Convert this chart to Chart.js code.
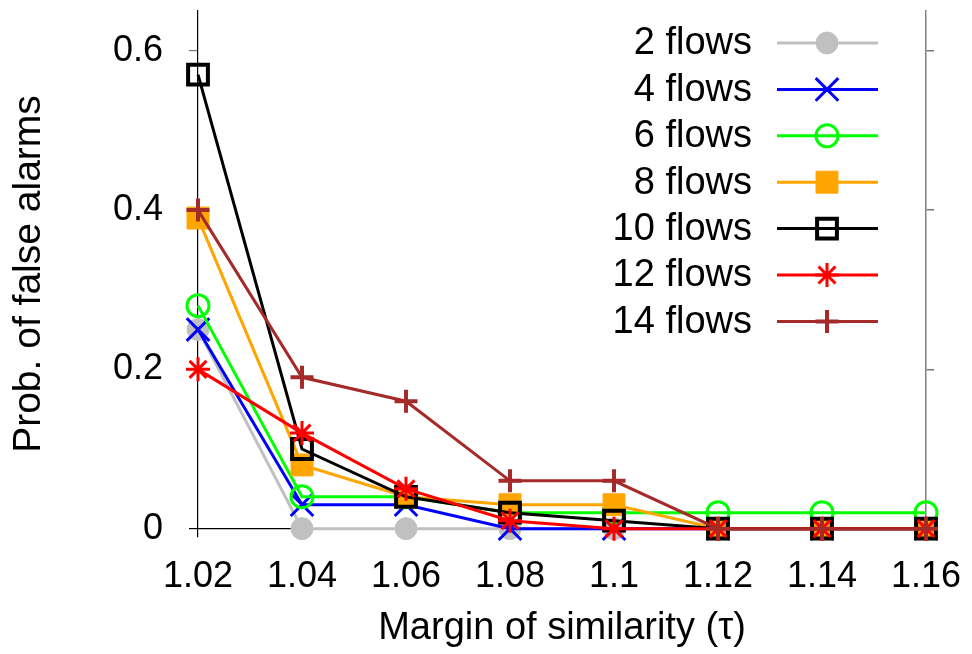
<!DOCTYPE html>
<html>
<head>
<meta charset="utf-8">
<script src="https://cdn.jsdelivr.net/npm/chart.js@4/dist/chart.umd.min.js"></script>
<style>
  body { margin: 0; background: #fff; }
  #wrap { width: 972px; height: 654px; }
</style>
</head>
<body>
<div id="wrap"><canvas id="grafico" width="972" height="654"></canvas></div>
<script>
// valores
const margens = ['1.02', '1.04', '1.06', '1.08', '1.1', '1.12', '1.14', '1.16'];
const ticksY = [0, 0.2, 0.4, 0.6];
const nomes = ['2 flows', '4 flows', '6 flows', '8 flows', '10 flows', '12 flows', '14 flows'];

const fluxos2 = [0.25, 0, 0, 0, 0, 0, 0, 0];
const fluxos4 = [0.25, 0.03, 0.03, 0, 0, 0, 0, 0];
const fluxos6 = [0.28, 0.04, 0.04, 0.02, 0.02, 0.02, 0.02, 0.02];
const fluxos8 = [0.39, 0.08, 0.04, 0.03, 0.03, 0, 0, 0];
const fluxos10 = [0.57, 0.10, 0.04, 0.02, 0.01, 0, 0, 0];
const fluxos12 = [0.20, 0.12, 0.05, 0.01, 0, 0, 0, 0];
const fluxos14 = [0.40, 0.19, 0.16, 0.06, 0.06, 0, 0, 0];

const fonte = '"Liberation Sans", Arial, sans-serif';

function serie(i, dados, cor, estilo, raio, fundo, largura) {
  return {
    label: nomes[i],
    data: dados,
    borderColor: cor,
    backgroundColor: fundo,
    borderWidth: 3,
    pointStyle: estilo,
    pointRadius: raio,
    pointHoverRadius: raio,
    pointBorderColor: cor,
    pointBackgroundColor: fundo,
    pointBorderWidth: largura,
    tension: 0,
    fill: false,
    clip: false,
    order: 10 - i // gnuplot desenha a ultima serie por cima
  };
}

const datasets = [
  serie(0, fluxos2, '#c0c0c0', 'circle', 11, '#c0c0c0', 1),
  serie(1, fluxos4, '#0000ff', 'crossRot', 16, '#0000ff', 3),
  serie(2, fluxos6, '#00ff00', 'circle', 11, 'rgba(0,0,0,0)', 3),
  serie(3, fluxos8, '#ffa500', 'rect', 15.5, '#ffa500', 1),
  serie(4, fluxos10, '#000000', 'rect', 14, 'rgba(0,0,0,0)', 4),
  serie(5, fluxos12, '#ff0000', 'star', 12, '#ff0000', 3),
  serie(6, fluxos14, '#a52a2a', 'cross', 11.5, '#a52a2a', 4)
];

// legenda no estilo gnuplot: texto alinhado a direita, amostra de linha depois
const legendaGnuplot = {
  id: 'legendaGnuplot',
  afterDraw(chart) {
    const ctx = chart.ctx;
    const xTexto = 752, x0 = 777, x1 = 878, xMarca = 827;
    const yInicio = 43, passo = 46.4;
    chart.data.datasets.forEach((ds, i) => {
      const y = yInicio + i * passo;
      ctx.save();
      ctx.font = '38px ' + fonte;
      ctx.fillStyle = '#000';
      ctx.textAlign = 'right';
      ctx.textBaseline = 'middle';
      ctx.fillText(ds.label, xTexto, y + 1);
      ctx.strokeStyle = ds.borderColor;
      ctx.lineWidth = ds.borderWidth;
      ctx.beginPath();
      ctx.moveTo(x0, y);
      ctx.lineTo(x1, y);
      ctx.stroke();
      ctx.fillStyle = ds.pointBackgroundColor;
      ctx.strokeStyle = ds.pointBorderColor;
      ctx.lineWidth = ds.pointBorderWidth;
      Chart.helpers.drawPoint(ctx, {
        pointStyle: ds.pointStyle,
        radius: ds.pointRadius,
        borderWidth: ds.pointBorderWidth,
        rotation: 0
      }, xMarca, y);
      ctx.restore();
    });
  }
};

function semPadding(escala) {
  escala.paddingTop = 0;
  escala.paddingBottom = 0;
  escala.paddingLeft = 0;
  escala.paddingRight = 0;
}

const ctx = document.getElementById('grafico').getContext('2d');
new Chart(ctx, {
  type: 'line',
  data: { labels: margens, datasets: datasets },
  options: {
    responsive: false,
    animation: false,
    events: [],
    layout: { autoPadding: false, padding: { top: 11, left: 0, right: 0, bottom: 0 } },
    plugins: {
      legend: { display: false },
      tooltip: { enabled: false }
    },
    scales: {
      x: {
        type: 'category',
        offset: false,
        grid: { display: false, drawTicks: false },
        border: { display: false },
        ticks: {
          color: '#000',
          font: { family: fonte, size: 36 },
          padding: 18,
          maxRotation: 0,
          autoSkip: false
        },
        title: {
          display: true,
          text: 'Margin of similarity (τ)',
          color: '#000',
          font: { family: fonte, size: 38 },
          padding: { top: 0, bottom: 3 }
        },
        afterFit(escala) { escala.height = 654 - 537; semPadding(escala); }
      },
      y: {
        position: 'left',
        min: -0.0105,
        max: 0.65,
        afterBuildTicks(escala) { escala.ticks = ticksY.map(v => ({ value: v })); },
        ticks: {
          color: '#000',
          font: { family: fonte, size: 36 },
          padding: 26,
          callback: v => String(v)
        },
        grid: {
          drawOnChartArea: true,
          drawTicks: true,
          tickLength: 9,
          color: c => (c.tick && c.tick.value === 0 ? '#000' : 'rgba(0,0,0,0)'),
          tickColor: c => (c.tick && c.tick.value === 0 ? '#000' : '#777'),
          lineWidth: 1.2
        },
        border: { display: true, color: '#000', width: 1.2 },
        title: {
          display: true,
          text: 'Prob. of false alarms',
          color: '#000',
          font: { family: fonte, size: 39 },
          padding: { top: 6, bottom: 0 }
        },
        afterFit(escala) { escala.width = 198; semPadding(escala); }
      },
      y2: {
        position: 'right',
        min: -0.0105,
        max: 0.65,
        afterBuildTicks(escala) { escala.ticks = ticksY.map(v => ({ value: v })); },
        ticks: { display: false },
        grid: {
          drawOnChartArea: false,
          drawTicks: true,
          tickLength: 8,
          tickColor: '#777',
          lineWidth: 1.5
        },
        border: { display: true, color: '#808080', width: 1.5 },
        afterFit(escala) { escala.width = 972 - 926; semPadding(escala); }
      }
    }
  },
  plugins: [legendaGnuplot]
});
</script>
</body>
</html>
